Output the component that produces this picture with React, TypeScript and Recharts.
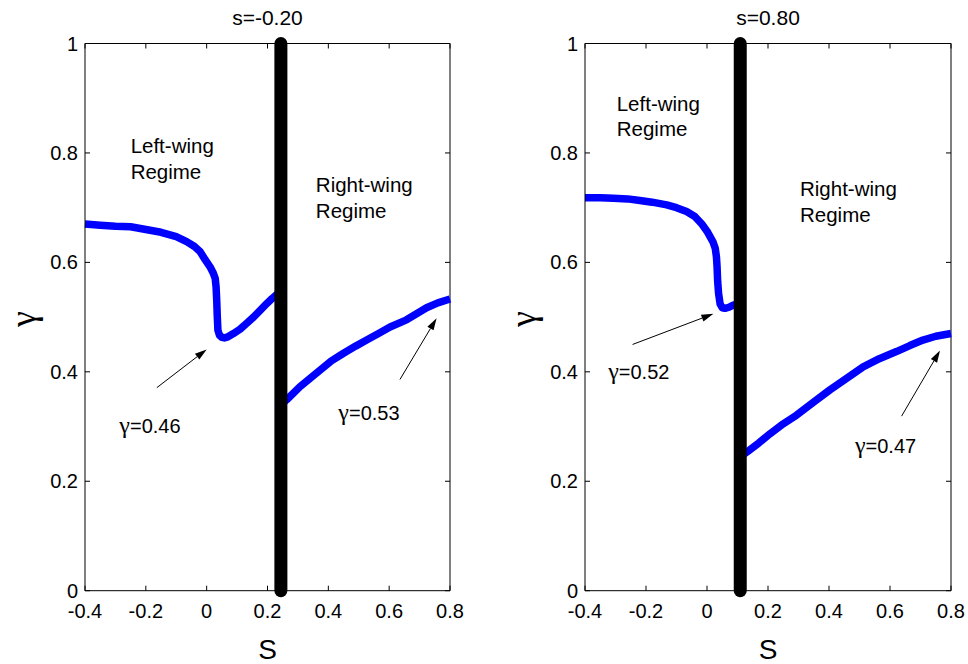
import React from 'react';
import { LineChart, Line, XAxis, YAxis, ReferenceLine, ReferenceDot } from 'recharts';

// ---------- data ----------
const xTicks = [-0.4, -0.2, 0, 0.2, 0.4, 0.6, 0.8];
const yTicks = [0, 0.2, 0.4, 0.6, 0.8, 1];
const X_MIN = -0.4;
const X_MAX = 0.8;
const Y_MIN = 0;
const Y_MAX = 1;
const panelTitles = ['s=-0.20', 's=0.80'];

// Panel 1 (s=-0.20)
const p1LeftS = [-0.4, -0.35, -0.3, -0.25, -0.2, -0.15, -0.1, -0.066, -0.04, -0.022, -0.005, 0.011, 0.022, 0.028, 0.031, 0.033, 0.035, 0.037, 0.042, 0.05, 0.058, 0.07, 0.088, 0.11, 0.13, 0.154, 0.175, 0.198, 0.215, 0.232, 0.244];
const p1LeftG = [0.670, 0.668, 0.666, 0.665, 0.660, 0.655, 0.647, 0.638, 0.629, 0.620, 0.605, 0.592, 0.580, 0.571, 0.555, 0.531, 0.500, 0.476, 0.467, 0.463, 0.462, 0.464, 0.470, 0.478, 0.488, 0.500, 0.512, 0.525, 0.534, 0.542, 0.550];
const p1RightS = [0.244, 0.263, 0.307, 0.34, 0.373, 0.41, 0.45, 0.49, 0.526, 0.565, 0.603, 0.657, 0.69, 0.723, 0.76, 0.8];
const p1RightG = [0.340, 0.349, 0.373, 0.388, 0.403, 0.420, 0.434, 0.447, 0.458, 0.470, 0.482, 0.495, 0.506, 0.517, 0.526, 0.533];
const p1Boundary = 0.244;

// Panel 2 (s=0.80)
const p2LeftS = [-0.4, -0.35, -0.307, -0.26, -0.22, -0.18, -0.132, -0.1, -0.067, -0.04, -0.017, 0.0, 0.01, 0.02, 0.027, 0.031, 0.033, 0.035, 0.038, 0.043, 0.05, 0.059, 0.072, 0.086, 0.109];
const p2LeftG = [0.718, 0.718, 0.717, 0.716, 0.713, 0.710, 0.705, 0.700, 0.693, 0.684, 0.670, 0.657, 0.647, 0.637, 0.626, 0.610, 0.592, 0.565, 0.543, 0.524, 0.517, 0.516, 0.518, 0.522, 0.525];
const p2RightS = [0.109, 0.13, 0.17, 0.207, 0.25, 0.294, 0.35, 0.403, 0.46, 0.512, 0.565, 0.621, 0.665, 0.708, 0.75, 0.8];
const p2RightG = [0.245, 0.253, 0.270, 0.287, 0.305, 0.321, 0.345, 0.367, 0.389, 0.409, 0.424, 0.437, 0.448, 0.458, 0.465, 0.470];
const p2Boundary = 0.109;

// annotations (data coordinates)
const p1RegimeS = [-0.25, 0.359];
const p1RegimeG = [0.800, 0.728];
const p2RegimeS = [-0.296, 0.305];
const p2RegimeG = [0.877, 0.721];
const regimeLines = [['Left-wing', 'Regime'], ['Right-wing', 'Regime']];

const p1NoteValues = [0.46, 0.53];
const p1NoteS = [-0.287, 0.433];
const p1NoteG = [0.288, 0.312];
const p2NoteValues = [0.52, 0.47];
const p2NoteS = [-0.324, 0.485];
const p2NoteG = [0.387, 0.252];

const p1Arrows = [
  [-0.164, 0.371, 0.0, 0.441],
  [0.6355, 0.386, 0.756, 0.498],
];
const p2Arrows = [
  [-0.244, 0.450, 0.021, 0.506],
  [0.638, 0.319, 0.764, 0.439],
];

// ---------- layout ----------
const W = 484;
const H = 664;
const PLOT_TOP = 43.5;
const PLOT_BOTTOM = 590.7;
const X_AXIS_H = 30;
const FONT = "'Liberation Sans', Arial, Helvetica, sans-serif";
const SERIF = "'Liberation Serif', 'Times New Roman', serif";
const TICK_LEN = 5;

const fmt = (v: number) => String(v);

const Arrow = (p: any) => {
  const { x1, y1, x2, y2 } = p;
  const dx = x2 - x1;
  const dy = y2 - y1;
  const L = Math.hypot(dx, dy) || 1;
  const ux = dx / L;
  const uy = dy / L;
  const hl = 12;
  const hw = 3.6;
  const bx = x2 - ux * hl;
  const by = y2 - uy * hl;
  const pts = `${x2},${y2} ${bx - uy * hw},${by + ux * hw} ${bx + uy * hw},${by - ux * hw}`;
  return (
    <g>
      <line x1={x1} y1={y1} x2={bx} y2={by} stroke="#000" strokeWidth={1} />
      <polygon points={pts} fill="#000" />
    </g>
  );
};

// vertical reference line -> draw only a short inward tick at the top
const TopTick = (p: any) => {
  const x = p.x1;
  const yTop = Math.min(p.y1, p.y2);
  return <line x1={x} y1={yTop} x2={x} y2={yTop + TICK_LEN} stroke="#000" strokeWidth={1} />;
};
// horizontal reference line -> draw only a short inward tick at the right
const RightTick = (p: any) => {
  const xRight = Math.max(p.x1, p.x2);
  const y = p.y1;
  return <line x1={xRight} y1={y} x2={xRight - TICK_LEN} y2={y} stroke="#000" strokeWidth={1} />;
};

type PanelProps = {
  left: number;
  title: string;
  plotLeft: number;
  plotRight: number;
  wingAS: number[];
  wingAG: number[];
  wingBS: number[];
  wingBG: number[];
  boundary: number;
  regimeS: number[];
  regimeG: number[];
  noteValues: number[];
  noteS: number[];
  noteG: number[];
  arrows: number[][];
};

function Panel(props: PanelProps) {
  const { left, title, plotLeft, plotRight, wingAS, wingAG, wingBS, wingBG, boundary, regimeS, regimeG, noteValues, noteS, noteG, arrows } = props;
  const cx = (plotLeft + plotRight) / 2;
  const wingA = wingAS.map((s, i) => ({ s, g: wingAG[i] }));
  const wingB = wingBS.map((s, i) => ({ s, g: wingBG[i] }));
  const boundaryData = [{ s: boundary, g: Y_MIN }, { s: boundary, g: Y_MAX }];

  return (
    <div style={{ position: 'absolute', left, top: 0, width: W, height: H, fontFamily: FONT }}>
      <LineChart
        width={W}
        height={H}
        margin={{ top: PLOT_TOP, right: W - plotRight, bottom: H - PLOT_BOTTOM - X_AXIS_H, left: 0 }}
      >
        <XAxis
          type="number"
          dataKey="s"
          domain={[X_MIN, X_MAX]}
          ticks={xTicks}
          interval={0}
          height={X_AXIS_H}
          tickSize={-TICK_LEN}
          tickMargin={18}
          stroke="#000"
          tick={{ fontSize: 20, fill: '#000' }}
          tickFormatter={fmt}
          label={{
            content: () => (
              <text x={cx} y={659} textAnchor="middle" fontSize={28} fill="#000">S</text>
            ),
          }}
        />
        <YAxis
          type="number"
          domain={[Y_MIN, Y_MAX]}
          ticks={yTicks}
          interval={0}
          width={plotLeft}
          tickSize={-TICK_LEN}
          tickMargin={12}
          stroke="#000"
          tick={{ fontSize: 20, fill: '#000' }}
          tickFormatter={fmt}
          label={{
            content: () => (
              <text
                x={plotLeft - 62.5}
                y={319}
                transform={`rotate(-90, ${plotLeft - 62.5}, 319)`}
                textAnchor="middle"
                dominantBaseline="central"
                fontSize={36}
                fontFamily={SERIF}
                fill="#000"
              >
                γ
              </text>
            ),
          }}
        />
        {/* box: top and right edges */}
        <ReferenceLine y={Y_MAX} stroke="#000" strokeWidth={1} ifOverflow="visible" />
        <ReferenceLine x={X_MAX} stroke="#000" strokeWidth={1} ifOverflow="visible" />
        {xTicks.map((t) => (
          <ReferenceLine key={`tt${t}`} x={t} ifOverflow="visible" shape={TopTick} />
        ))}
        {yTicks.map((t) => (
          <ReferenceLine key={`rt${t}`} y={t} ifOverflow="visible" shape={RightTick} />
        ))}
        <Line
          data={wingA}
          dataKey="g"
          type="linear"
          stroke="#0000ff"
          strokeWidth={7.5}
          strokeLinejoin="round"
          dot={false}
          activeDot={false}
          isAnimationActive={false}
        />
        <Line
          data={wingB}
          dataKey="g"
          type="linear"
          stroke="#0000ff"
          strokeWidth={7.5}
          strokeLinejoin="round"
          dot={false}
          activeDot={false}
          isAnimationActive={false}
        />
        <Line
          data={boundaryData}
          dataKey="g"
          type="linear"
          stroke="#000"
          strokeWidth={13}
          strokeLinecap="round"
          dot={false}
          activeDot={false}
          isAnimationActive={false}
        />
        {arrows.map((a, i) => (
          <ReferenceLine
            key={`arr${i}`}
            segment={[{ x: a[0], y: a[1] }, { x: a[2], y: a[3] }]}
            ifOverflow="visible"
            shape={Arrow}
          />
        ))}
        {regimeS.map((s, i) => (
          <ReferenceDot
            key={`reg${i}`}
            x={s}
            y={regimeG[i]}
            r={1}
            ifOverflow="visible"
            shape={(p: any) => (
              <text x={p.cx} y={p.cy} fontSize={20.5} fill="#000">
                <tspan x={p.cx} dy={0}>{regimeLines[i][0]}</tspan>
                <tspan x={p.cx} dy={25.6}>{regimeLines[i][1]}</tspan>
              </text>
            )}
          />
        ))}
        {noteValues.map((v, i) => (
          <ReferenceDot
            key={`note${i}`}
            x={noteS[i]}
            y={noteG[i]}
            r={1}
            ifOverflow="visible"
            shape={(p: any) => (
              <text x={p.cx} y={p.cy} fontSize={20} fill="#000">
                <tspan fontFamily={SERIF} fontSize={24}>γ</tspan>
                <tspan>{`=${v.toFixed(2)}`}</tspan>
              </text>
            )}
          />
        ))}
        <ReferenceDot
          x={(X_MIN + X_MAX) / 2}
          y={Y_MAX}
          r={1}
          ifOverflow="visible"
          shape={(p: any) => (
            <text x={p.cx} y={p.cy - 18.5} textAnchor="middle" fontSize={21} fill="#000">{title}</text>
          )}
        />
      </LineChart>
    </div>
  );
}

export default function App() {
  return (
    <div style={{ position: 'absolute', left: 0, top: 0, width: 968, height: 664, background: '#fff' }}>
      <Panel
        left={0}
        title={panelTitles[0]}
        plotLeft={85}
        plotRight={450}
        wingAS={p1LeftS}
        wingAG={p1LeftG}
        wingBS={p1RightS}
        wingBG={p1RightG}
        boundary={p1Boundary}
        regimeS={p1RegimeS}
        regimeG={p1RegimeG}
        noteValues={p1NoteValues}
        noteS={p1NoteS}
        noteG={p1NoteG}
        arrows={p1Arrows}
      />
      <Panel
        left={484}
        title={panelTitles[1]}
        plotLeft={101}
        plotRight={467}
        wingAS={p2LeftS}
        wingAG={p2LeftG}
        wingBS={p2RightS}
        wingBG={p2RightG}
        boundary={p2Boundary}
        regimeS={p2RegimeS}
        regimeG={p2RegimeG}
        noteValues={p2NoteValues}
        noteS={p2NoteS}
        noteG={p2NoteG}
        arrows={p2Arrows}
      />
    </div>
  );
}
